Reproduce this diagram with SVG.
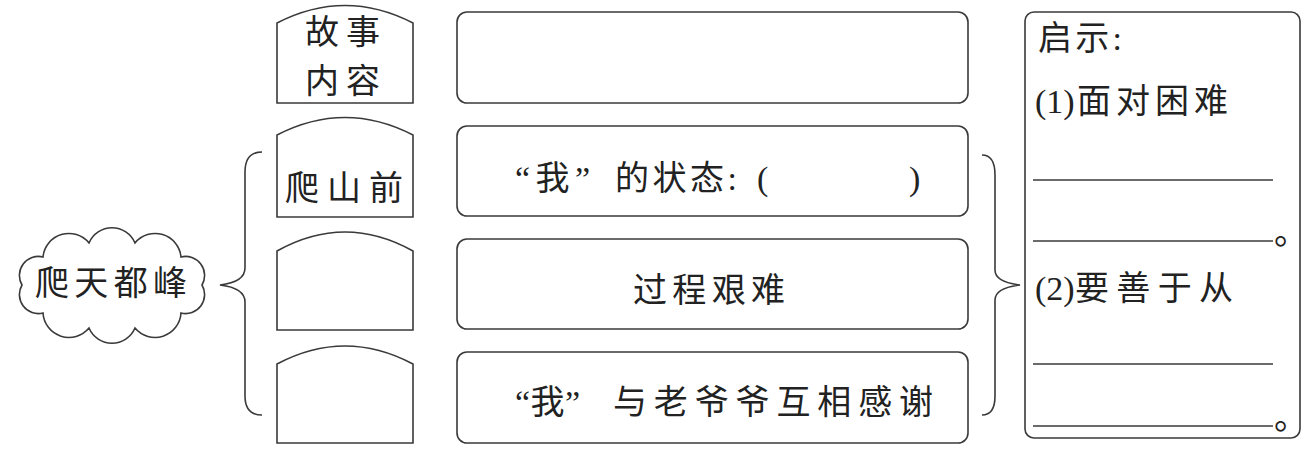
<svg xmlns="http://www.w3.org/2000/svg" width="1310" height="453" viewBox="0 0 1310 453">
<style>
.s{fill:none;stroke:#3a3a3a;stroke-width:1.6}
.t{font-family:"Liberation Serif","Noto Sans CJK SC",serif;font-size:34px;fill:#222}
</style>
<rect width="1310" height="453" fill="#fff"/>
<g id="cloud">
<path class="s" d="M202,285 A19,19 0 0 1 181,313 A26,26 0 0 1 135,328 A25,25 0 0 1 89,328 A26,26 0 0 1 43,313 A19,19 0 0 1 22,285 A19,19 0 0 1 43,257 A26,26 0 0 1 89,243 A25,25 0 0 1 135,243 A26,26 0 0 1 181,257 A19,19 0 0 1 202,285 Z"/>
<text class="t" x="35" y="295" font-size="36" textLength="152" lengthAdjust="spacing">爬天都峰</text>
</g>
<g id="connectors">
<path class="s" d="M262,152 Q245,152 245,172 L245,268 Q245,282 220,285 Q245,288 245,302 L245,396 Q245,415 262,415"/>
<path class="s" d="M982,155 Q995,155 995,175 L995,270 Q995,282 1020,285 Q995,288 995,300 L995,396 Q995,415 982,415"/>
</g>
<g id="tab1"><path class="s" d="M277,103 L277,23 Q345,-12 413,23 L413,103 Z"/>
<text class="t" x="305" y="44" font-size="32" textLength="75" lengthAdjust="spacing">故事</text><text class="t" x="305" y="93" font-size="32" textLength="75" lengthAdjust="spacing">内容</text></g>
<g id="tab2"><path class="s" d="M277,217 L277,135 Q345,100 413,135 L413,217 Z"/>
<text class="t" x="285" y="200" font-size="38" textLength="118" lengthAdjust="spacing">爬山前</text></g>
<g id="tab3"><path class="s" d="M277,330 L277,251 Q345,213 413,251 L413,330 Z"/></g>
<g id="tab4"><path class="s" d="M277,443 L277,364 Q345,328 413,364 L413,443 Z"/></g>
<g id="box1"><rect class="s" x="457" y="12" width="511" height="91" rx="10"/></g>
<g id="box2"><rect class="s" x="457" y="126" width="511" height="90" rx="10"/>
<text class="t" x="515" y="190" textLength="75" lengthAdjust="spacing">“我”</text>
<text class="t" x="615" y="190" textLength="122" lengthAdjust="spacing">的状态:</text>
<text class="t" x="757" y="190">(</text><text class="t" x="909" y="190">)</text></g>
<g id="box3"><rect class="s" x="457" y="239" width="511" height="90" rx="10"/>
<text class="t" x="633" y="302" font-size="36" textLength="152" lengthAdjust="spacing">过程艰难</text></g>
<g id="box4"><rect class="s" x="457" y="352" width="511" height="91" rx="10"/>
<text class="t" x="515" y="414" font-size="36" textLength="65" lengthAdjust="spacing">“我”</text>
<text class="t" x="613" y="414" font-size="36" textLength="320" lengthAdjust="spacing">与老爷爷互相感谢</text></g>
<g id="insight"><rect class="s" x="1025" y="12" width="275" height="426" rx="9"/>
<text class="t" x="1038" y="50" font-size="30" textLength="84" lengthAdjust="spacing">启示:</text>
<text class="t" x="1035" y="113">(1)</text>
<text class="t" x="1077" y="113" textLength="151" lengthAdjust="spacing">面对困难</text>
<line class="s" x1="1033" y1="180" x2="1273" y2="180"/>
<line class="s" x1="1033" y1="241" x2="1273" y2="241"/>
<text class="t" x="1274" y="244" font-size="20">。</text>
<text class="t" x="1035" y="300">(2)</text>
<text class="t" x="1075" y="300" textLength="158" lengthAdjust="spacing">要善于从</text>
<line class="s" x1="1033" y1="364" x2="1273" y2="364"/>
<line class="s" x1="1033" y1="426" x2="1273" y2="426"/>
<text class="t" x="1274" y="429" font-size="20">。</text>
</g>
</svg>
